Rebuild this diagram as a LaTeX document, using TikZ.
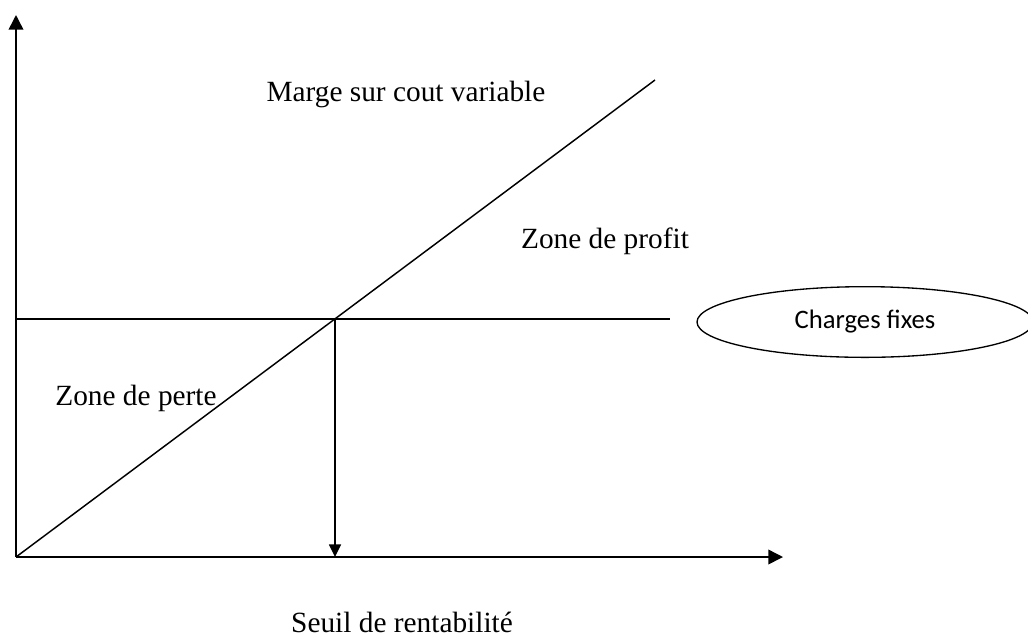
\documentclass[tikz,border=0pt]{standalone}
\usepackage{fontspec}
\setmainfont{Liberation Serif}
\newfontfamily\calib{Carlito}
\usetikzlibrary{arrows.meta,shapes.geometric}
\tikzset{
  ln/.style={line width=1.1pt, black},
  axisarrow/.style={ln, -{Triangle[length=11pt,width=11pt]}},
  droparrow/.style={ln, -{Triangle[length=9.5pt,width=9pt]}},
  lbl/.style={font=\fontsize{22}{26}\selectfont, anchor=base, inner sep=0pt},
  oval/.style={draw, ellipse, line width=1pt, minimum width=252pt, minimum height=53pt, inner sep=0pt, font=\calib\fontsize{20}{24}\selectfont}
}
\begin{document}
\begin{tikzpicture}[x=0.75pt,y=-0.75pt]
\useasboundingbox (0,0) rectangle (1028,637);
\coordinate (O) at (16,557);
\coordinate (Ytop) at (16,15);
\coordinate (Xend) at (783,557);
\coordinate (D) at (655,80);
\coordinate (Hs) at (16,319);
\coordinate (He) at (670,319);
\coordinate (P) at (335,319);
\coordinate (Pb) at (335,557);
\draw[axisarrow] (O) -- (Ytop);
\draw[axisarrow] (O) -- (Xend);
\draw[ln] (O) -- (D);
\draw[ln] (Hs) -- (He);
\draw[droparrow] (P) -- (Pb);
\node[oval] (cf) at (865,322) {Charges fixes};
\node[lbl] (marge) at (406,101) {Marge sur cout variable};
\node[lbl] (profit) at (605,248) {Zone de profit};
\node[lbl] (perte) at (136,405) {Zone de perte};
\node[lbl] (seuil) at (402,632) {Seuil de rentabilité};
\end{tikzpicture}
\end{document}
